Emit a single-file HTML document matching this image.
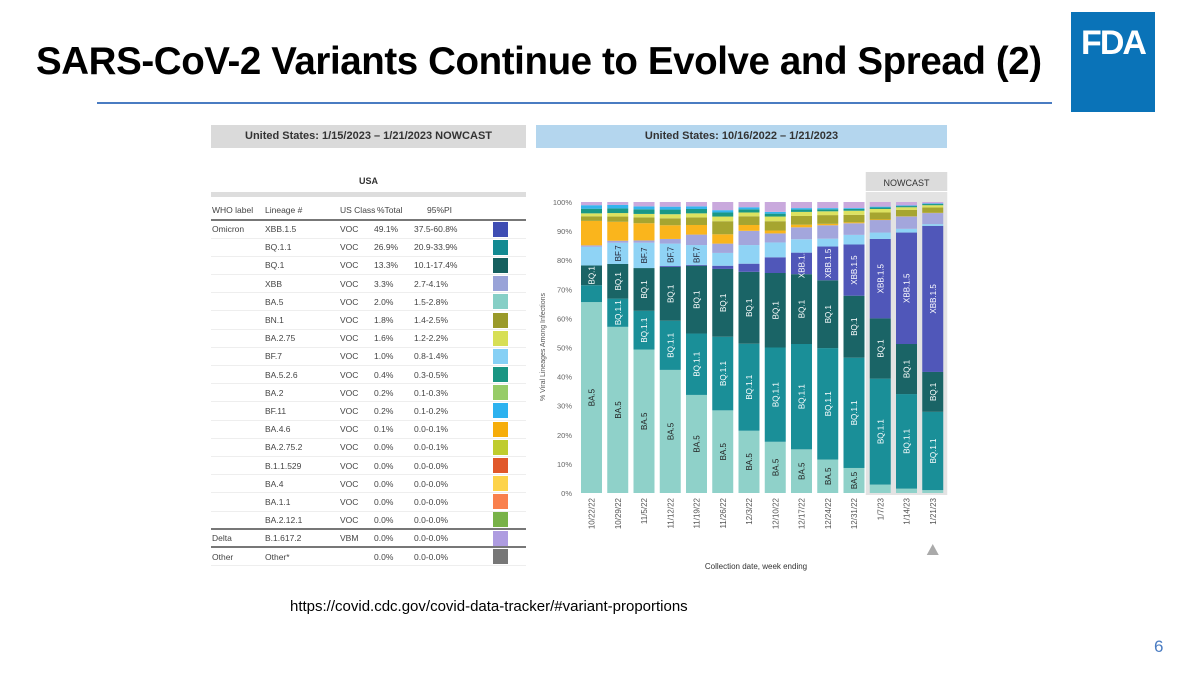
<!DOCTYPE html>
<html><head><meta charset="utf-8">
<style>
body{margin:0;background:#fff;}
#root{position:relative;width:1200px;height:673px;overflow:hidden;font-family:"Liberation Sans",Arial,sans-serif;}
.abs{position:absolute;}
table{border-collapse:collapse;}
td{white-space:nowrap;padding:0 0 0 1px;}
</style></head>
<body>
<div id="root">
<div class="abs" style="left:36px;top:40px;font-size:38.5px;font-weight:bold;color:#000;letter-spacing:-0.4px;white-space:nowrap;">SARS-CoV-2 Variants Continue to Evolve and Spread (2)</div>
<div class="abs" style="left:97px;top:102px;width:955px;height:2px;background:#4a7cc2;"></div>
<div class="abs" style="left:1071px;top:12px;width:84px;height:100px;background:#0a73b8;color:#fff;font-weight:bold;font-size:34px;text-align:center;line-height:62px;letter-spacing:-2px;">FDA</div>
<div class="abs" style="left:211px;top:125px;width:315px;height:23px;background:#dadada;font-size:11px;font-weight:bold;color:#333;text-align:center;line-height:23px;">United States: 1/15/2023 – 1/21/2023 NOWCAST</div>
<div class="abs" style="left:536px;top:125px;width:411px;height:23px;background:#b4d6ee;font-size:11px;font-weight:bold;color:#333;text-align:center;line-height:23px;">United States: 10/16/2022 – 1/21/2023</div>
<div class="abs" style="left:211px;top:176px;width:315px;text-align:center;font-size:9px;font-weight:bold;color:#333;">USA</div>
<div class="abs" style="left:211px;top:192px;width:315px;height:5px;background:#ddd;"></div>
<div class="abs" id="tbl" style="left:211px;top:201px;width:315px;font-size:8.5px;color:#444;"></div>
<svg class="abs" id="chart" style="left:0;top:0" width="1200" height="673"></svg>
<div class="abs" style="left:290px;top:598px;font-size:15px;color:#000;">https://covid.cdc.gov/covid-data-tracker/#variant-proportions</div>
<div class="abs" style="left:1154px;top:637px;font-size:17px;color:#4a7cc2;">6</div>
</div>
<script>
// ---- table data ----
const lineages=["XBB.1.5","BQ.1.1","BQ.1","XBB","BA.5","BN.1","BA.2.75","BF.7","BA.5.2.6","BA.2","BF.11","BA.4.6","BA.2.75.2","B.1.1.529","BA.4","BA.1.1","BA.2.12.1","B.1.617.2","Other*"];
const whoLabels=["Omicron","","","","","","","","","","","","","","","","","Delta","Other"];
const classes=["VOC","VOC","VOC","VOC","VOC","VOC","VOC","VOC","VOC","VOC","VOC","VOC","VOC","VOC","VOC","VOC","VOC","VBM",""];
const totals=["49.1%","26.9%","13.3%","3.3%","2.0%","1.8%","1.6%","1.0%","0.4%","0.2%","0.2%","0.1%","0.0%","0.0%","0.0%","0.0%","0.0%","0.0%","0.0%"];
const pis=["37.5-60.8%","20.9-33.9%","10.1-17.4%","2.7-4.1%","1.5-2.8%","1.4-2.5%","1.2-2.2%","0.8-1.4%","0.3-0.5%","0.1-0.3%","0.1-0.2%","0.0-0.1%","0.0-0.1%","0.0-0.0%","0.0-0.0%","0.0-0.0%","0.0-0.0%","0.0-0.0%","0.0-0.0%"];
const swatches=["#3f4db3","#138a92","#16605f","#99a3d8","#86cfc6","#9a9a2a","#d7df55","#86d0f5","#1a9683","#97cc68","#2db2ef","#f6ad0a","#bfcc2e","#e1582a","#fdd34a","#f9804d","#78b248","#ae9ce0","#777777"];
(function(){
 const t=document.getElementById('tbl');
 let h='<table style="width:315px;table-layout:fixed"><colgroup><col style="width:53px"><col style="width:75px"><col style="width:34px"><col style="width:40px"><col style="width:70px"><col></colgroup><tr style="height:19px;border-bottom:2px solid #777"><td>WHO label</td><td>Lineage #</td><td>US Class</td><td style="padding-left:4px">%Total</td><td style="padding-left:14px">95%PI</td><td></td></tr>';
 for(let i=0;i<lineages.length;i++){
  const top=(i==17||i==18)?'border-top:2px solid #777;':'';
  h+='<tr style="height:18.2px;'+top+'border-bottom:1px solid #eee"><td>'+whoLabels[i]+'</td><td>'+lineages[i]+'</td><td>'+classes[i]+'</td><td>'+totals[i]+'</td><td>'+pis[i]+'</td><td><div style="width:15px;height:15px;margin-left:9px;background:'+swatches[i]+'"></div></td></tr>';
 }
 h+='</table>';t.innerHTML=h;
 t.querySelectorAll('tr').forEach(r=>{});
})();

// ---- chart data ----
const dates=["10/22/22","10/29/22","11/5/22","11/12/22","11/19/22","11/26/22","12/3/22","12/10/22","12/17/22","12/24/22","12/31/22","1/7/23","1/14/23","1/21/23"];
const ba5=[65.6,57.1,49.3,42.3,33.7,28.4,21.4,17.6,15.0,11.5,8.6,2.9,1.5,1.0];
const bq11=[5.8,9.7,13.3,16.9,21.1,25.3,29.9,32.4,36.2,38.3,37.9,36.4,32.5,26.9];
const bq1=[6.8,11.9,14.7,18.5,23.3,23.3,24.7,25.6,24.0,23.3,21.3,20.7,17.2,13.7];
const xbb15=[0,0,0,0.3,0.3,1.1,2.8,5.4,7.4,11.6,17.6,27.3,38.3,50.2];
const bf7=[6.4,7.3,8.7,7.7,6.8,4.4,6.4,5.1,4.6,2.7,3.3,2.2,1.3,0.6];
const xbb=[0.5,0.7,0.8,1.6,3.6,3.2,4.9,3.1,4.1,4.6,4.0,4.3,4.2,3.8];
const ba46=[8.4,6.5,5.9,4.7,3.3,3.2,2.0,1.0,0.9,0.5,0.3,0.2,0.1,0.1];
const bn1=[1.6,1.8,2.0,2.4,2.6,4.5,3.0,3.2,3.0,3.0,2.6,2.4,2.2,1.8];
const ba275=[1.0,1.2,1.2,1.4,1.4,1.6,1.3,1.6,1.4,1.3,1.4,1.2,0.9,0.8];
const ba526=[1.6,1.6,1.6,1.6,1.5,1.4,1.1,1.0,0.8,0.7,0.6,0.5,0.4,0.4];
const bf11=[1.2,1.2,1.0,1.0,0.9,0.8,0.7,0.6,0.5,0.4,0.3,0.3,0.2,0.2];
const other=[1.1,1.0,1.5,1.6,1.5,2.8,1.8,3.4,2.1,2.1,2.1,1.6,1.2,0.5];
const seriesNames=["BA.5","BQ.1.1","BQ.1","XBB.1.5","BF.7","XBB","BA.4.6","BN.1","BA.2.75","BA.5.2.6","BF.11","Other"];
const seriesVals=[ba5,bq11,bq1,xbb15,bf7,xbb,ba46,bn1,ba275,ba526,bf11,other];
const seriesColors=["#8fd1c9","#1a8f98","#1a6466","#5057b9","#8fd3f5","#a3a6dc","#fab51c","#a6a530","#dde260","#1a9886","#35b4ee","#c9a9dd"];
const labelColors=["#222","#fff","#fff","#fff","#223","#222","#222","#222","#222","#222","#222","#222"];
const yTicks=[0,10,20,30,40,50,60,70,80,90,100];

const svg=document.getElementById('chart');const NS='http://www.w3.org/2000/svg';
function el(tag,a){const e=document.createElementNS(NS,tag);for(const k in a)e.setAttribute(k,a[k]);svg.appendChild(e);return e;}
const y0=493,y1=202;
function yS(v){return y0-(v/100)*(y0-y1);}
const x0=581,step=26.25,bw=21;
function xS(i){return x0+i*step;}
const nb=el('rect',{x:xS(11)-4,y:192,width:xS(13)+bw+4-(xS(11)-4),height:y0-192+2,fill:'#e3e3e3'});


const nbox=el('rect',{x:xS(11)-4,y:172,width:xS(13)+bw+4-(xS(11)-4),height:19,fill:'#dcdcdc'});


const nt=el('text',{x:(xS(11)+xS(13)+bw)/2,y:186,'font-size':9,'text-anchor':'middle',fill:'#333'});nt.textContent='NOWCAST';


yTicks.forEach(t=>{const tx=el('text',{x:572,y:yS(t)+3,'font-size':7.5,'text-anchor':'end',fill:'#666'});tx.textContent=t+'%';

});
const yt=el('text',{x:0,y:0,'font-size':7,'text-anchor':'middle',fill:'#555',transform:'translate(545,347) rotate(-90)'});yt.textContent='% Viral Lineages Among Infections';


dates.forEach((d,i)=>{
 let cum=0;
 seriesVals.forEach((s,k)=>{
  const v=Math.min(s[i],100-cum);if(v<=0)return;
  const r=el('rect',{x:xS(i),y:yS(cum+v),width:bw,height:yS(cum)-yS(cum+v),fill:seriesColors[k]});
  
  
  if(k<=4 && v>=6.5){
   const cx=xS(i)+bw/2+3,cy=(yS(cum)+yS(cum+v))/2;
   const lt=el('text',{x:0,y:0,'font-size':8,'text-anchor':'middle',fill:labelColors[k],transform:'translate('+cx+','+cy+') rotate(-90)'});
   lt.textContent=seriesNames[k];
   
   
  }
  cum+=v;
 });
 const xl=el('text',{x:0,y:0,'font-size':8,'text-anchor':'end',fill:'#555',transform:'translate('+(xS(i)+bw/2+3)+',498) rotate(-90)'});
 xl.textContent=d;
 
 
});
const tri=el('polygon',{points:(xS(13)+bw/2-6)+',555 '+(xS(13)+bw/2+6)+',555 '+(xS(13)+bw/2)+',544',fill:'#aaa'});


const xt=el('text',{x:756,y:569,'font-size':8,'text-anchor':'middle',fill:'#333'});xt.textContent='Collection date, week ending';


</script>
</body></html>
